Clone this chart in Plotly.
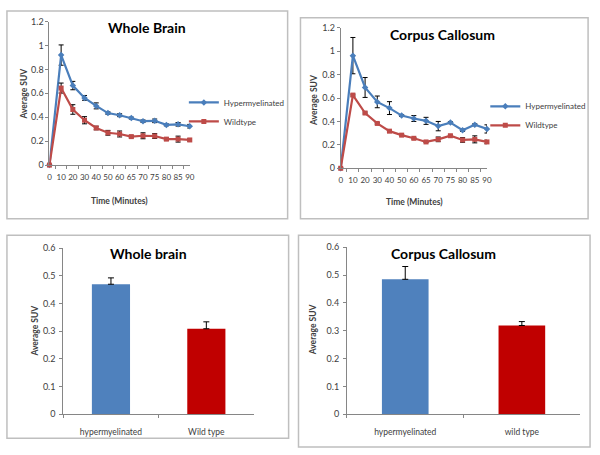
import plotly.graph_objects as go

# ---------------- data ----------------
time_labels = ["0", "10", "20", "30", "40", "50", "60", "65", "70", "75", "80", "85", "90"]

wb_hyper = [0, 0.92, 0.665, 0.562, 0.495, 0.435, 0.417, 0.393, 0.367, 0.37, 0.336, 0.341, 0.325]
wb_hyper_err = [0, 0.085, 0.035, 0.02, 0.025, 0.01, 0.012, 0.008, 0.01, 0.015, 0.008, 0.015, 0.015]
wb_wild = [0, 0.644, 0.465, 0.375, 0.31, 0.27, 0.26, 0.238, 0.245, 0.243, 0.217, 0.217, 0.21]
wb_wild_err = [0, 0.042, 0.04, 0.03, 0.015, 0.02, 0.025, 0.01, 0.025, 0.02, 0.01, 0.025, 0.01]

cc_hyper = [0, 0.962, 0.69, 0.567, 0.514, 0.45, 0.425, 0.405, 0.36, 0.39, 0.325, 0.372, 0.336]
cc_hyper_err = [0, 0.155, 0.085, 0.05, 0.055, 0.008, 0.025, 0.03, 0.04, 0.008, 0.01, 0.008, 0.035]
cc_wild = [0, 0.625, 0.472, 0.383, 0.317, 0.283, 0.256, 0.225, 0.247, 0.278, 0.242, 0.247, 0.225]
cc_wild_err = [0, 0.008, 0.008, 0.006, 0.006, 0.006, 0.006, 0.006, 0.02, 0.006, 0.02, 0.03, 0.015]

bar_cats_wb = ["hypermyelinated", "Wild type"]
bar_vals_wb = [0.47, 0.309]
bar_err_wb = [0.023, 0.025]

bar_cats_cc = ["hypermyelinated", "wild type"]
bar_vals_cc = [0.485, 0.319]
bar_err_cc = [0.046, 0.014]

series_names = ["Hypermyelinated", "Wildtype"]
titles = ["Whole Brain", "Corpus Callosum", "Whole brain", "Corpus Callosum"]

# ---------------- style ----------------
W, H = 600, 455
FONT = "Lato"
BLUE = "#4A7EBB"
RED = "#BE4B48"
BAR_BLUE = "#4F81BD"
BAR_RED = "#C00000"
AXIS = "#868686"
TXT = "#404040"


def px(x):
    return x / W


def py(y):
    return 1 - y / H


fig = go.Figure()

# line charts
for i, (hy, hye, wi, wie, lg) in enumerate([
    (wb_hyper, wb_hyper_err, wb_wild, wb_wild_err, "legend"),
    (cc_hyper, cc_hyper_err, cc_wild, cc_wild_err, "legend2"),
]):
    xa = "x" if i == 0 else "x2"
    ya = "y" if i == 0 else "y2"
    fig.add_trace(go.Scatter(
        x=time_labels, y=hy, name=series_names[0], mode="lines+markers",
        line=dict(color=BLUE, width=2.2), marker=dict(symbol="diamond", size=5, color=BLUE),
        error_y=dict(type="data", array=hye, color="#000000", thickness=1, width=2.5),
        xaxis=xa, yaxis=ya, legend=lg, cliponaxis=False))
    fig.add_trace(go.Scatter(
        x=time_labels, y=wi, name=series_names[1], mode="lines+markers",
        line=dict(color=RED, width=2.2), marker=dict(symbol="square", size=5, color=RED),
        error_y=dict(type="data", array=wie, color="#000000", thickness=1, width=2.5),
        xaxis=xa, yaxis=ya, legend=lg, cliponaxis=False))

# bar charts
for cats, vals, errs, xa, ya in [
    (bar_cats_wb, bar_vals_wb, bar_err_wb, "x3", "y3"),
    (bar_cats_cc, bar_vals_cc, bar_err_cc, "x4", "y4"),
]:
    fig.add_trace(go.Bar(
        x=cats, y=vals, marker=dict(color=[BAR_BLUE, BAR_RED], line=dict(width=0)),
        error_y=dict(type="data", array=errs, arrayminus=[0, 0], symmetric=False,
                     color="#000000", thickness=1, width=3),
        xaxis=xa, yaxis=ya, showlegend=False))

common_x = dict(showline=True, linecolor=AXIS, linewidth=1, showgrid=False, zeroline=False,
                ticks="outside", ticklen=3, tickcolor=AXIS, tickangle=0,
                tickfont=dict(family=FONT, size=8.5, color=TXT), type="category",
                tickson="boundaries")
common_y = dict(showline=True, linecolor=AXIS, linewidth=1, showgrid=False, zeroline=False,
                ticks="outside", ticklen=3, tickcolor=AXIS,
                tickfont=dict(family=FONT, size=9, color=TXT))

leg_font = dict(family=FONT, size=8, color=TXT)
line_xfont = dict(family=FONT, size=8, color=TXT)

fig.update_layout(
    width=W, height=H, margin=dict(l=0, r=0, t=0, b=0),
    paper_bgcolor="white", plot_bgcolor="white", bargap=0.6,
    xaxis=dict(common_x, domain=[px(48), px(190)], range=[0, 12], anchor="y",
               tickfont=line_xfont, ticklabelstandoff=4),
    yaxis=dict(common_y, domain=[py(163), py(16)], range=[0, 1.2], dtick=0.2, anchor="x"),
    xaxis2=dict(common_x, domain=[px(342.7), px(490.7)], range=[0, 12], anchor="y2",
                tickfont=line_xfont, ticklabelstandoff=4),
    yaxis2=dict(common_y, domain=[py(166.3), py(22.3)], range=[0, 1.2], dtick=0.2, anchor="x2"),
    xaxis3=dict(common_x, domain=[px(62), px(255)], range=[-0.5, 1.5], anchor="y3",
                ticklabelstandoff=10),
    yaxis3=dict(common_y, domain=[py(418.3), py(248.3)], range=[0, 0.6], dtick=0.1, anchor="x3",
                ticklabelstandoff=2),
    xaxis4=dict(common_x, domain=[px(349), px(585)], range=[-0.5, 1.5], anchor="y4",
                ticklabelstandoff=10),
    yaxis4=dict(common_y, domain=[py(418.3), py(247.3)], range=[0, 0.6], dtick=0.1, anchor="x4",
                ticklabelstandoff=2),
    legend=dict(x=px(184), y=py(84), xanchor="left", yanchor="top", font=leg_font,
                bgcolor="rgba(0,0,0,0)", tracegroupgap=0, itemwidth=30),
    legend2=dict(x=px(489), y=py(88), xanchor="left", yanchor="top", font=leg_font,
                 bgcolor="rgba(0,0,0,0)", tracegroupgap=0, itemwidth=30),
)

# panel borders
for (x0, y0, x1, y1) in [(5, 5, 289, 218), (302, 12, 593, 218), (5, 235, 290, 443), (300, 235, 595, 452)]:
    fig.add_shape(type="rect", xref="paper", yref="paper", x0=px(x0), x1=px(x1), y0=py(y0), y1=py(y1),
                  line=dict(color="#BFBFBF", width=1.5), fillcolor="rgba(0,0,0,0)", layer="below")

# titles
for text, cx, cy in [(titles[0], 147, 22), (titles[1], 446, 29), (titles[2], 148, 254), (titles[3], 447, 254)]:
    fig.add_annotation(text="<b>" + text + "</b>", x=px(cx), y=py(cy), xref="paper", yref="paper",
                       showarrow=False, xanchor="center", yanchor="middle",
                       font=dict(family=FONT, size=14, color="#000000"))

# axis titles
for text, cx, cy, ang in [
    ("Average SUV", 22, 90, -90), ("Average SUV", 315, 97, -90),
    ("Average SUV", 33, 333, -90), ("Average SUV", 315, 332, -90),
    ("Time (Minutes)", 119, 200, 0), ("Time (Minutes)", 417, 201, 0),
]:
    fig.add_annotation(text="<b>" + text + "</b>", x=px(cx), y=py(cy), xref="paper", yref="paper",
                       showarrow=False, xanchor="center", yanchor="middle", textangle=ang,
                       font=dict(family=FONT, size=8.5, color=TXT))

fig.write_html("out.html", config={"displayModeBar": False},
               post_script="document.body.style.margin='0px';")
